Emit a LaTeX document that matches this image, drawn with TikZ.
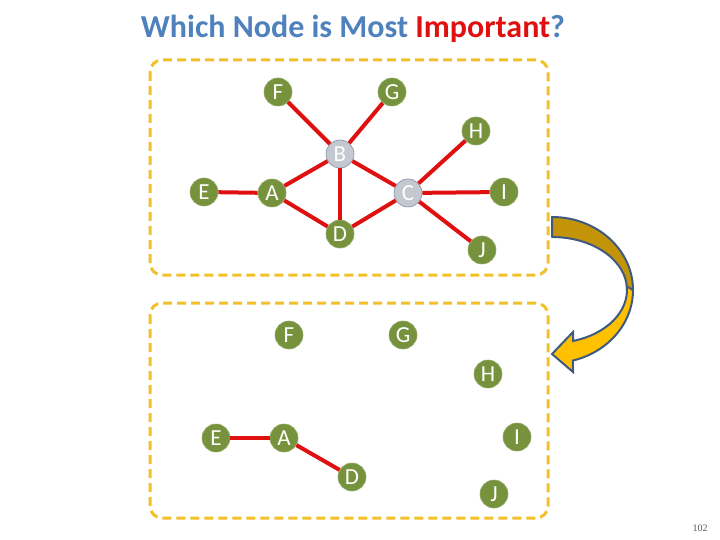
\documentclass[tikz,border=0pt]{standalone}
\usepackage{fontspec}
\setmainfont{Carlito}
\newfontfamily\numfont{Liberation Serif}
\definecolor{nodegreen}{RGB}{118,146,60}
\definecolor{nodegray}{RGB}{196,200,208}
\definecolor{graybord}{RGB}{128,144,168}
\definecolor{edgered}{RGB}{222,16,16}
\definecolor{boxyellow}{RGB}{242,192,40}
\definecolor{titleblue}{RGB}{79,129,189}
\definecolor{titlered}{RGB}{224,16,16}
\definecolor{arrdark}{RGB}{196,148,8}
\definecolor{arrlight}{RGB}{255,192,0}
\definecolor{arrbord}{RGB}{63,90,127}
\begin{document}
\begin{tikzpicture}[x=1pt,y=-1pt,
  gnode/.style={circle,fill=nodegreen,draw=nodegreen!80!white,line width=0.6pt,minimum size=28pt,inner sep=0pt,text=white,font=\fontsize{23}{23}\selectfont},
  cnode/.style={gnode,fill=nodegray,draw=graybord},
  edge/.style={draw=edgered,line width=4pt},
  dbox/.style={draw=boxyellow,line width=3pt,dash pattern=on 9pt off 5pt,rounded corners=12pt}]
\useasboundingbox (0,0) rectangle (720,540);
% title
\node (title) at (353,29) {\fontsize{32}{32}\selectfont\bfseries\color{titleblue}Which Node is Most \textcolor{titlered}{Important}?};
% boxes
\draw[dbox] (150,60) rectangle (548,275);
\draw[dbox] (150,303) rectangle (548,518);
% top graph
\node[gnode] (F1) at (278,92) {F};
\node[gnode] (G1) at (392,92) {G};
\node[gnode] (H1) at (476,131) {H};
\node[cnode] (B1) at (340,154) {B};
\node[gnode] (E1) at (204,192) {E};
\node[gnode] (A1) at (272,193) {A};
\node[cnode] (C1) at (408,193) {C};
\node[gnode] (I1) at (504,192) {I};
\node[gnode] (D1) at (340,234) {D};
\node[gnode] (J1) at (482,250) {J};
\draw[edge] (F1) -- (B1);
\draw[edge] (G1) -- (B1);
\draw[edge] (B1) -- (A1);
\draw[edge] (B1) -- (D1);
\draw[edge] (B1) -- (C1);
\draw[edge] (E1) -- (A1);
\draw[edge] (A1) -- (D1);
\draw[edge] (D1) -- (C1);
\draw[edge] (C1) -- (H1);
\draw[edge] (C1) -- (I1);
\draw[edge] (C1) -- (J1);
% bottom graph
\node[gnode] (F2) at (289,335) {F};
\node[gnode] (G2) at (403,335) {G};
\node[gnode] (H2) at (488,374) {H};
\node[gnode] (E2) at (216,438) {E};
\node[gnode] (A2) at (284,438) {A};
\node[gnode] (I2) at (517,437) {I};
\node[gnode] (D2) at (352,477) {D};
\node[gnode] (J2) at (494,494) {J};
\draw[edge] (E2) -- (A2);
\draw[edge] (A2) -- (D2);
% curved arrow
\draw[fill=arrdark,draw=arrbord,line width=2pt,line join=round]
  (552,217) arc[start angle=-90,end angle=0,x radius=81,y radius=73]
  -- (627,290) arc[start angle=0,end angle=-90,x radius=75,y radius=53] -- cycle;
\draw[fill=arrlight,draw=arrbord,line width=2pt,line join=miter]
  (633,290) arc[start angle=0,end angle=75,x radius=81,y radius=73]
  -- (573,372) -- (552,354) -- (573,332) -- (573,341)
  arc[start angle=73.7,end angle=-4,x radius=75,y radius=53] -- cycle;
% page number
\node[text=gray!70!black,font=\numfont\fontsize{10}{10}\selectfont] (pnum) at (700,528) {102};
\end{tikzpicture}
\end{document}
